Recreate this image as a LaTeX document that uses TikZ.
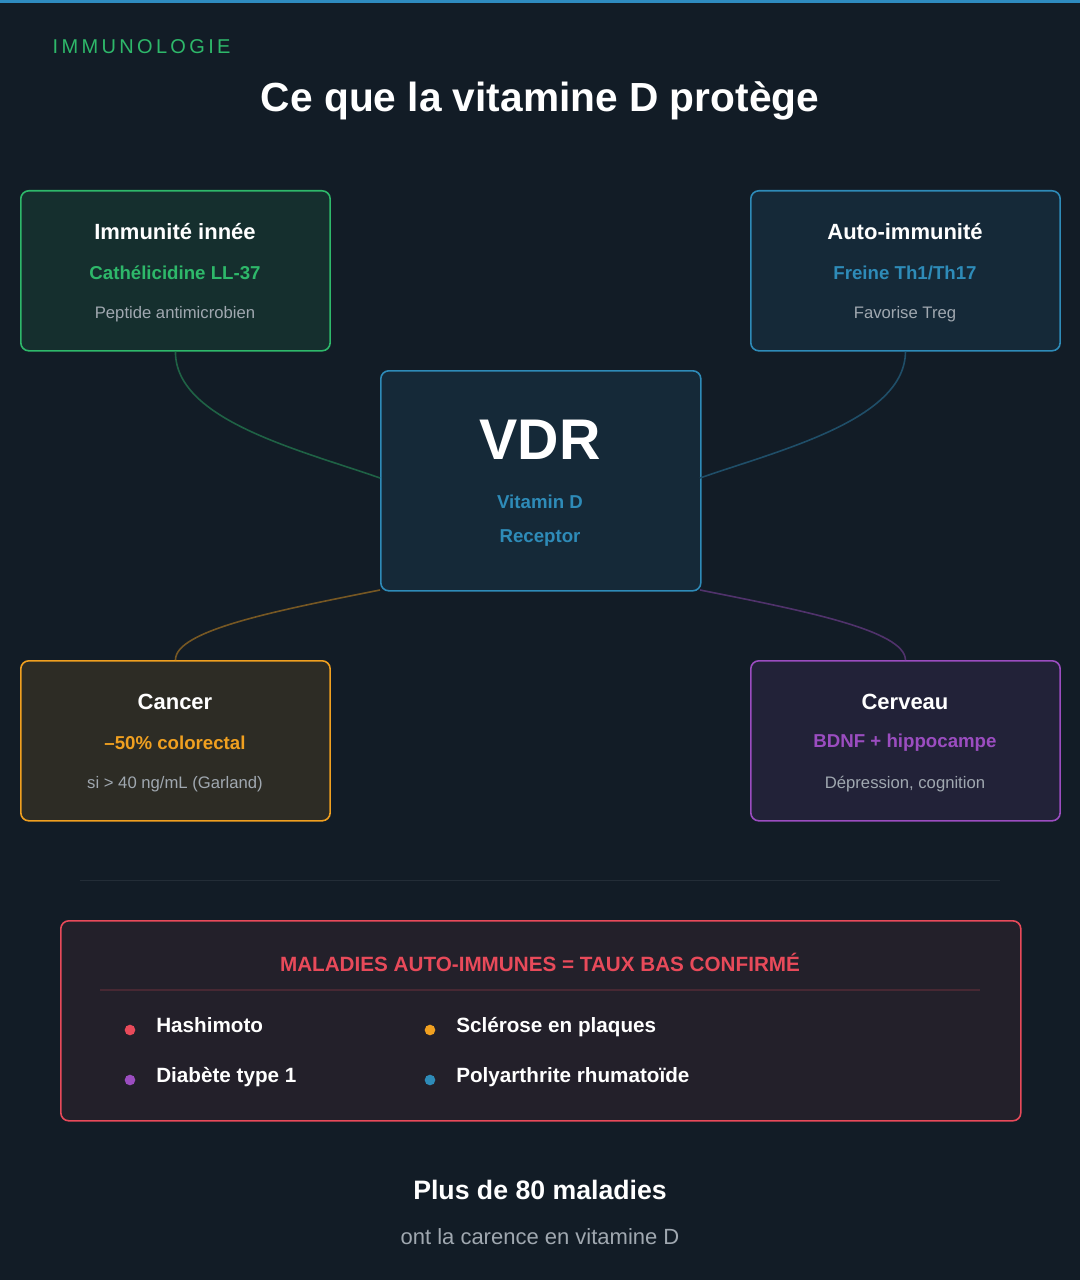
\documentclass[tikz,border=0pt]{standalone}
\usepackage{fontspec}
\setmainfont{Liberation Sans}
\usetikzlibrary{positioning}
\definecolor{bgc}{HTML}{121C26}
\definecolor{topc}{HTML}{2E8BC0}
\definecolor{grn}{HTML}{2EB86A}
\definecolor{blu}{HTML}{2E8BB8}
\definecolor{org}{HTML}{F0A020}
\definecolor{pur}{HTML}{9B4DC0}
\definecolor{redc}{HTML}{E84A5A}
\definecolor{gry}{HTML}{A0A8B0}
\tikzset{
  card/.style={draw=#1, line width=1.2pt, rounded corners=6pt, fill=#1!12!bgc,
    minimum width=232pt, minimum height=120pt, anchor=north west},
  ttl/.style={text=white, font=\bfseries\fontsize{16.5}{18}\selectfont},
  sub/.style={text=#1, font=\bfseries\fontsize{14}{16}\selectfont},
  small/.style={text=gry, font=\fontsize{12.5}{14}\selectfont},
  link/.style={draw=#1!45!bgc, line width=1.2pt},
  dot/.style={circle, fill=#1, inner sep=0pt, minimum size=8pt},
  item/.style={text=white, anchor=west, text height=1.4ex, text depth=0.6ex,
    font=\bfseries\fontsize{15.5}{17}\selectfont}
}
\begin{document}
\begin{tikzpicture}[x=0.75pt, y=-0.75pt]
\fill[bgc] (0,0) rectangle (1080,1280);
\useasboundingbox (0,0) rectangle (1080,1280);
\fill[topc] (0,0) rectangle (1080,3);

% header
\node[anchor=west, text=grn, font=\fontsize{15}{17}\selectfont] (kicker) at (48,47) {I\,M\,M\,U\,N\,O\,L\,O\,G\,I\,E};
\node[text=white, font=\bfseries\fontsize{30.5}{33}\selectfont] (title) at (540,101) {Ce que la vitamine D protège};

% cards
\node[card=grn] (inn) at (20,190) {};
\node[card=blu] (aut) at (750,190) {};
\node[card=org] (can) at (20,660) {};
\node[card=pur] (cer) at (750,660) {};
\node[card=blu, minimum width=240pt, minimum height=165pt] (vdr) at (380,370) {};

% links
\draw[link=grn] (inn.south) .. controls (175,420) and (300,450) .. (380,478);
\draw[link=blu] (aut.south) .. controls (905,420) and (780,450) .. (700,478);
\draw[link=org] (can.north) .. controls (175,630) and (280,610) .. (380,590);
\draw[link=pur] (cer.north) .. controls (905,630) and (800,610) .. (700,590);

% card texts
\node[ttl] at (175,232) {Immunité innée};
\node[sub=grn] at (175,273) {Cathélicidine LL-37};
\node[small] at (175,314) {Peptide antimicrobien};
\node[ttl] at (905,232) {Auto-immunité};
\node[sub=blu] at (905,273) {Freine Th1/Th17};
\node[small] at (905,314) {Favorise Treg};
\node[ttl] at (175,702) {Cancer};
\node[sub=org] at (175,743) {–50\% colorectal};
\node[small] at (175,784) {si > 40 ng/mL (Garland)};
\node[ttl] at (905,702) {Cerveau};
\node[sub=pur] at (905,743) {BDNF + hippocampe};
\node[small] at (905,784) {Dépression, cognition};
\node[text=white, font=\bfseries\fontsize{43}{46}\selectfont] at (540,440) {VDR};
\node[sub=blu] at (540,502) {Vitamin D};
\node[sub=blu] at (540,538) {Receptor};

% diseases
\draw[gry!12!bgc, line width=0.6pt] (80,880) -- (1000,880);
\node[card=redc, minimum width=720pt, minimum height=150pt, fill=redc!8!bgc] (mal) at (60,920) {};
\node[text=redc, font=\bfseries\fontsize{15.5}{17}\selectfont] at (540,962) {MALADIES AUTO-IMMUNES = TAUX BAS CONFIRMÉ};
\draw[redc!25!bgc, line width=0.8pt] (100,990) -- (980,990);
\node[dot=redc] (d1) at (130,1030) {};
\node[item, right=12pt of d1] {Hashimoto};
\node[dot=pur] (d2) at (130,1080) {};
\node[item, right=12pt of d2] {Diabète type 1};
\node[dot=org] (d3) at (430,1030) {};
\node[item, right=12pt of d3] {Sclérose en plaques};
\node[dot=blu] (d4) at (430,1080) {};
\node[item, right=12pt of d4] {Polyarthrite rhumatoïde};

% footer
\node[text=white, font=\bfseries\fontsize{20}{22}\selectfont] at (540,1190) {Plus de 80 maladies};
\node[text=gry, font=\fontsize{16.5}{18}\selectfont] at (540,1237) {ont la carence en vitamine D};
\end{tikzpicture}
\end{document}
